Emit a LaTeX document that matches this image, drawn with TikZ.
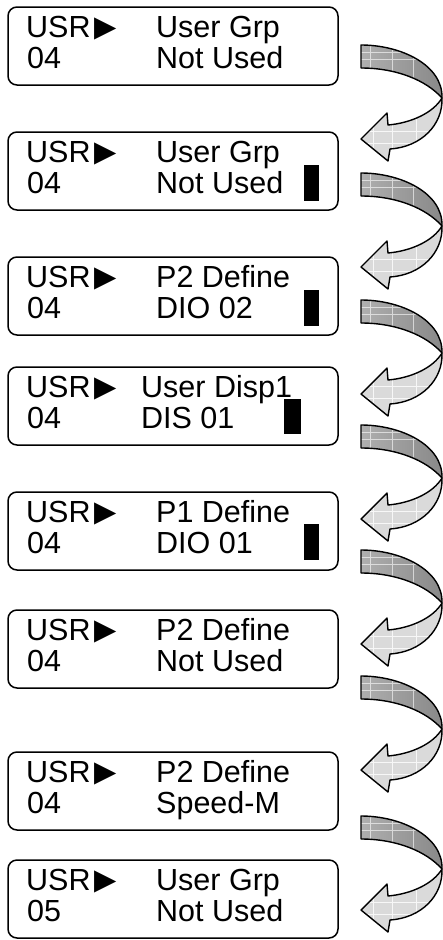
\documentclass[tikz,border=0pt]{standalone}
\usepackage{fontspec}
\setmainfont{Liberation Sans}
\newfontfamily\symfont{DejaVu Sans}
\usetikzlibrary{positioning,calc}
\definecolor{darkband}{RGB}{135,135,135}
\definecolor{midband}{RGB}{175,175,175}
\definecolor{lightband}{RGB}{218,218,218}

\newcommand\usrmark{USR\hspace{4pt}{\symfont\fontsize{29}{29}\selectfont\raisebox{1pt}{▶}}}

\tikzset{
  twistarrow/.pic={
    % upper (dark) part of the ribbon
    \begin{scope}
      \clip (0,0) .. controls (40,0) and (82,20) .. (81,53)
            .. controls (65,35) and (35,23) .. (0,23) -- cycle;
      \fill[left color=midband, right color=darkband] (0,-2) rectangle (84,56);
      \draw[white, line width=1pt, opacity=.6]
        (9,-2) -- (9,30) (31,-2) -- (31,30) (52,-2) -- (52,40)
        (0,7) -- (70,7) (0,14) -- (70,14);
    \end{scope}
    \draw[outline] (0,0) .. controls (40,0) and (82,20) .. (81,53)
          .. controls (65,35) and (35,23) .. (0,23) -- cycle;
    % lower (light) part with the head
    \begin{scope}
      \clip (81,53) .. controls (72,68) and (50,78) .. (27,80) -- (26,68)
            -- (0,94) -- (27,116) -- (29,104)
            .. controls (60,102) and (82,80) .. (81,53) -- cycle;
      \fill[lightband] (-2,50) rectangle (84,118);
      \draw[white, line width=1pt, opacity=.8]
        (12,60) -- (12,118) (31,60) -- (31,118) (55,60) -- (55,118)
        (0,86) -- (84,86) (0,98) -- (84,98);
    \end{scope}
    \draw[outline] (81,53) .. controls (72,68) and (50,78) .. (27,80) -- (26,68)
          -- (0,94) -- (27,116) -- (29,104)
          .. controls (60,102) and (82,80) .. (81,53) -- cycle;
  }
}

\begin{document}
\begin{tikzpicture}[
    x=1pt, y=-1pt,
    lcd/.style={draw, rounded corners=9pt, line width=1.5pt, minimum width=330pt,
                minimum height=78pt, outer sep=0pt},
    txt/.style={anchor=base west, inner sep=0pt, font=\fontsize{30.5}{31}\selectfont},
    bar/.style={anchor=north west, fill=black, inner sep=0pt, outer sep=0pt,
                minimum width=15pt, minimum height=36pt},
    outline/.style={draw=black, line width=1.4pt, line join=round}
]
\useasboundingbox (0,0) rectangle (443,940);

\node[lcd] (d1) at (173,46) {};
\node[lcd, below=47pt of d1] (d2) {};
\node[lcd, below=47pt of d2] (d3) {};
\node[lcd, below=32pt of d3] (d4) {};
\node[lcd, below=47pt of d4] (d5) {};
\node[lcd, below=40pt of d5] (d6) {};
\node[lcd, below=64pt of d6] (d7) {};
\node[lcd, below=30pt of d7] (d8) {};

% screen 1
\node[txt] (u1) at ($(d1.north west)+(18,30)$) {\usrmark};
\node[txt] (n1) at ($(d1.north west)+(19,61)$) {04};
\node[txt] (p1) at ($(d1.north west)+(148,30)$) {User Grp};
\node[txt] (v1) at ($(d1.north west)+(148,61)$) {Not Used};

% screen 2
\node[txt] (u2) at ($(d2.north west)+(18,30)$) {\usrmark};
\node[txt] (n2) at ($(d2.north west)+(19,61)$) {04};
\node[txt] (p2) at ($(d2.north west)+(148,30)$) {User Grp};
\node[txt] (v2) at ($(d2.north west)+(148,61)$) {Not Used};
\node[bar] (k2) at ($(d2.north west)+(296,33)$) {};

% screen 3
\node[txt] (u3) at ($(d3.north west)+(18,30)$) {\usrmark};
\node[txt] (n3) at ($(d3.north west)+(19,61)$) {04};
\node[txt] (p3) at ($(d3.north west)+(148,30)$) {P2 Define};
\node[txt] (v3) at ($(d3.north west)+(148,61)$) {DIO 02};
\node[bar] (k3) at ($(d3.north west)+(296,33)$) {};

% screen 4
\node[txt] (u4) at ($(d4.north west)+(18,30)$) {\usrmark};
\node[txt] (n4) at ($(d4.north west)+(19,61)$) {04};
\node[txt] (p4) at ($(d4.north west)+(133,30)$) {User Disp1};
\node[txt] (v4) at ($(d4.north west)+(133,61)$) {DIS 01};
\node[bar, minimum width=17pt, minimum height=35pt] (k4) at ($(d4.north west)+(276,32)$) {};

% screen 5
\node[txt] (u5) at ($(d5.north west)+(18,30)$) {\usrmark};
\node[txt] (n5) at ($(d5.north west)+(19,61)$) {04};
\node[txt] (p5) at ($(d5.north west)+(148,30)$) {P1 Define};
\node[txt] (v5) at ($(d5.north west)+(148,61)$) {DIO 01};
\node[bar] (k5) at ($(d5.north west)+(296,32)$) {};

% screen 6
\node[txt] (u6) at ($(d6.north west)+(18,30)$) {\usrmark};
\node[txt] (n6) at ($(d6.north west)+(19,61)$) {04};
\node[txt] (p6) at ($(d6.north west)+(148,30)$) {P2 Define};
\node[txt] (v6) at ($(d6.north west)+(148,61)$) {Not Used};

% screen 7
\node[txt] (u7) at ($(d7.north west)+(18,30)$) {\usrmark};
\node[txt] (n7) at ($(d7.north west)+(19,61)$) {04};
\node[txt] (p7) at ($(d7.north west)+(148,30)$) {P2 Define};
\node[txt] (v7) at ($(d7.north west)+(148,61)$) {Speed-M};

% screen 8
\node[txt] (u8) at ($(d8.north west)+(18,30)$) {\usrmark};
\node[txt] (n8) at ($(d8.north west)+(19,61)$) {05};
\node[txt] (p8) at ($(d8.north west)+(148,30)$) {User Grp};
\node[txt] (v8) at ($(d8.north west)+(148,61)$) {Not Used};

% turning arrows between the screens
\pic at ($(d1.north east)+(23,38)$) {twistarrow};
\pic at ($(d2.north east)+(23,41)$) {twistarrow};
\pic at ($(d3.north east)+(23,43)$) {twistarrow};
\pic at ($(d4.north east)+(23,58)$) {twistarrow};
\pic at ($(d5.north east)+(23,58)$) {twistarrow};
\pic at ($(d6.north east)+(23,66)$) {twistarrow};
\pic at ($(d7.north east)+(23,64)$) {twistarrow};

\end{tikzpicture}
\end{document}
